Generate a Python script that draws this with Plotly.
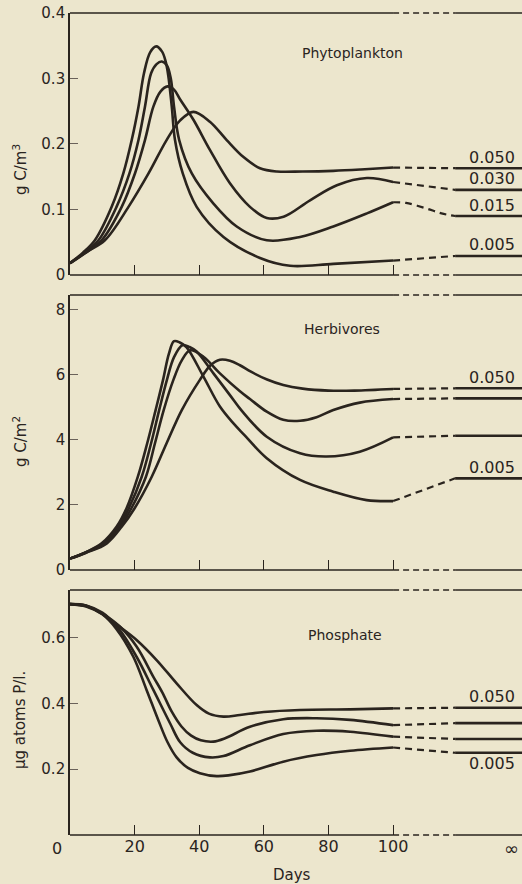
import plotly.graph_objects as go

# ---------------- data ----------------
params = ["0.005", "0.015", "0.030", "0.050"]
x_ticks = [20, 40, 60, 80, 100]
x_tick_text = ["20", "40", "60", "80", "100"]
dash_start = 100
asym_start = 119.2
x_max = 139.9

# Phytoplankton (g C/m3)
phyto_005_days = [0, 4, 7.7, 12.9, 16.5, 19.1, 21.2, 22.9, 24.8, 26.7, 28.5, 29.6, 30.4, 31.5, 32.5, 34.9, 39.2, 47.5, 58.8, 68.1, 81.5, 100]
phyto_005_vals = [0.018, 0.034, 0.053, 0.104, 0.155, 0.206, 0.257, 0.308, 0.340, 0.349, 0.341, 0.326, 0.305, 0.257, 0.206, 0.155, 0.104, 0.058, 0.026, 0.014, 0.017, 0.022]
phyto_015_days = [0, 4, 8.8, 14.4, 18.4, 21.2, 23.2, 25.1, 26.8, 28.4, 30.0, 31.2, 32.2, 33.8, 37.7, 44.4, 51.6, 60.9, 71.2, 81.5, 91.9, 100]
phyto_015_vals = [0.018, 0.032, 0.053, 0.104, 0.155, 0.206, 0.257, 0.308, 0.322, 0.326, 0.320, 0.300, 0.257, 0.206, 0.155, 0.109, 0.074, 0.053, 0.058, 0.074, 0.094, 0.111]
phyto_030_days = [0, 4, 9.8, 16, 20.1, 23.2, 25.8, 28, 30.2, 32.2, 34.1, 38.2, 43.3, 49.5, 55.7, 60.9, 66.1, 74.3, 82.6, 91.9, 100]
phyto_030_vals = [0.018, 0.031, 0.053, 0.104, 0.155, 0.206, 0.257, 0.280, 0.288, 0.283, 0.268, 0.237, 0.191, 0.140, 0.104, 0.087, 0.089, 0.114, 0.137, 0.148, 0.142]
phyto_050_days = [0, 5, 10.8, 18.1, 24.3, 29.9, 34.1, 38.2, 43.3, 48.5, 53.7, 58.8, 64, 72, 81.5, 90, 100]
phyto_050_vals = [0.018, 0.035, 0.053, 0.104, 0.155, 0.206, 0.236, 0.249, 0.234, 0.206, 0.180, 0.163, 0.158, 0.158, 0.159, 0.161, 0.164]
phyto_dash_days = [[100, 119.2], [100, 104, 110, 115, 119.2], [100, 119.2], [100, 119.2]]
phyto_dash_vals = [[0.022, 0.029], [0.111, 0.110, 0.102, 0.094, 0.090], [0.142, 0.130], [0.164, 0.163]]
phyto_asym = [0.029, 0.090, 0.130, 0.163]

# Herbivores (g C/m2)
herb_005_days = [0, 5, 9.8, 14.4, 17.5, 21.0, 23.9, 26.5, 28.8, 30.6, 32.2, 34.0, 36.1, 41.3, 46.4, 50.6, 54, 60.9, 71.2, 81.5, 91.8, 100]
herb_005_vals = [0.35, 0.55, 0.82, 1.33, 1.90, 2.87, 3.90, 4.92, 5.85, 6.65, 7.04, 7.00, 6.85, 5.95, 5.03, 4.51, 4.15, 3.44, 2.77, 2.41, 2.15, 2.12]
herb_015_days = [0, 5, 10.3, 15.0, 18.2, 22.2, 25.1, 27.6, 30.0, 32.2, 34.9, 37.0, 39.2, 44.4, 49.5, 53, 60.9, 71.2, 79.4, 89.7, 100]
herb_015_vals = [0.35, 0.55, 0.82, 1.33, 1.90, 2.87, 3.90, 4.92, 5.85, 6.55, 6.92, 6.86, 6.72, 6.05, 5.38, 4.92, 4.10, 3.59, 3.49, 3.64, 4.08]
herb_030_days = [0, 5, 10.8, 15.5, 19.0, 23.5, 26.3, 29.0, 32.0, 34.6, 37.2, 41.3, 46.4, 52.6, 55.7, 60.9, 66, 71.2, 76.3, 81.5, 89.7, 100]
herb_030_vals = [0.35, 0.54, 0.82, 1.33, 1.90, 2.87, 3.90, 4.92, 5.85, 6.45, 6.76, 6.56, 6.05, 5.50, 5.26, 4.87, 4.62, 4.59, 4.70, 4.92, 5.15, 5.26]
herb_050_days = [0, 5, 11.4, 16, 20.0, 25.3, 29.9, 34.6, 40.2, 43.5, 46.4, 49.5, 52.6, 56, 61, 66, 72, 80, 88, 100]
herb_050_vals = [0.35, 0.53, 0.82, 1.33, 1.90, 2.87, 3.90, 4.92, 5.85, 6.30, 6.47, 6.44, 6.30, 6.10, 5.86, 5.69, 5.58, 5.52, 5.52, 5.57]
herb_dash_days = [[100, 119.2], [100, 119.2], [100, 119.2], [100, 119.2]]
herb_dash_vals = [[2.12, 2.82], [4.08, 4.13], [5.26, 5.28], [5.57, 5.59]]
herb_asym = [2.82, 4.13, 5.28, 5.59]

# Phosphate (ug atoms P/l)
phos_005_days = [0, 5, 10, 14.4, 19.6, 23.7, 27.5, 30.2, 33, 36.5, 40.2, 45.4, 49.5, 55.7, 66, 76.3, 86.7, 100]
phos_005_vals = [0.702, 0.695, 0.671, 0.626, 0.542, 0.441, 0.345, 0.282, 0.236, 0.204, 0.188, 0.179, 0.182, 0.193, 0.223, 0.243, 0.256, 0.266]
phos_015_days = [0, 5, 10, 15, 20.6, 25.8, 31, 34.1, 38, 43.3, 47.5, 55.7, 66, 76.3, 86.7, 100]
phos_015_vals = [0.702, 0.696, 0.672, 0.628, 0.542, 0.441, 0.339, 0.282, 0.250, 0.236, 0.240, 0.273, 0.307, 0.317, 0.314, 0.299]
phos_030_days = [0, 5, 10, 15.5, 20.6, 25.8, 28.6, 31.5, 34.5, 37.5, 40.5, 44.4, 48, 55.7, 66, 76.3, 86.7, 100]
phos_030_vals = [0.702, 0.697, 0.673, 0.633, 0.573, 0.481, 0.433, 0.375, 0.330, 0.302, 0.288, 0.284, 0.294, 0.329, 0.352, 0.355, 0.350, 0.334]
phos_050_days = [0, 5, 10, 13.4, 20.6, 26.8, 33, 39.2, 43, 47.5, 52.6, 60, 71.2, 86.7, 100]
phos_050_vals = [0.702, 0.698, 0.676, 0.648, 0.593, 0.532, 0.461, 0.395, 0.369, 0.360, 0.365, 0.374, 0.380, 0.382, 0.385]
phos_dash_days = [[100, 119.2], [100, 119.2], [100, 119.2], [100, 119.2]]
phos_dash_vals = [[0.266, 0.250], [0.299, 0.292], [0.334, 0.340], [0.385, 0.387]]
phos_asym = [0.250, 0.292, 0.340, 0.387]

# ---------------- styling ----------------
BG = "#ECE6CD"
INK = "#2A241E"
FONT = "DejaVu Sans"

fig = go.Figure()

panels = [
    ("x", "y", [(phyto_005_days, phyto_005_vals), (phyto_015_days, phyto_015_vals),
                (phyto_030_days, phyto_030_vals), (phyto_050_days, phyto_050_vals)],
     phyto_dash_days, phyto_dash_vals, phyto_asym),
    ("x2", "y2", [(herb_005_days, herb_005_vals), (herb_015_days, herb_015_vals),
                  (herb_030_days, herb_030_vals), (herb_050_days, herb_050_vals)],
     herb_dash_days, herb_dash_vals, herb_asym),
    ("x3", "y3", [(phos_005_days, phos_005_vals), (phos_015_days, phos_015_vals),
                  (phos_030_days, phos_030_vals), (phos_050_days, phos_050_vals)],
     phos_dash_days, phos_dash_vals, phos_asym),
]

for xa, ya, curves, dd, dv, asym in panels:
    for i, (d, v) in enumerate(curves):
        fig.add_trace(go.Scatter(x=d, y=v, xaxis=xa, yaxis=ya, mode="lines",
                                 line=dict(color=INK, width=2.6, shape="spline", smoothing=1.0),
                                 showlegend=False, hoverinfo="skip"))
        fig.add_trace(go.Scatter(x=dd[i], y=dv[i], xaxis=xa, yaxis=ya, mode="lines",
                                 line=dict(color=INK, width=2.2, dash="7px,5px", shape="spline"),
                                 showlegend=False, hoverinfo="skip"))
        fig.add_trace(go.Scatter(x=[asym_start, x_max], y=[asym[i], asym[i]], xaxis=xa, yaxis=ya,
                                 mode="lines", line=dict(color=INK, width=2.6),
                                 showlegend=False, hoverinfo="skip"))

# ---------------- axes ----------------
doms = [[0.6813, 1.0], [0.3224, 0.6569], [0.0, 0.2981]]
yranges = [[0, 0.4], [0, 8.46], [0, 0.745]]
ytickvals = [[0, 0.1, 0.2, 0.3, 0.4], [0, 2, 4, 6, 8], [0.2, 0.4, 0.6]]
yticktext = [["0", "0.1", "0.2", "0.3", "0.4"], ["0", "2", "4", "6", "8"], ["0.2", "0.4", "0.6"]]

layout = dict(
    width=522, height=884,
    paper_bgcolor=BG, plot_bgcolor=BG,
    margin=dict(l=70, r=0, t=13, b=49),
    font=dict(family=FONT, color=INK, size=15),
    showlegend=False,
)
for k in range(3):
    sx = "" if k == 0 else str(k + 1)
    layout["xaxis" + sx] = dict(
        domain=[0, 1], range=[0, x_max], anchor="y" + sx,
        showgrid=False, zeroline=False, showline=False,
        ticks="inside", ticklen=10, tickwidth=1, tickcolor=INK,
        tickvals=x_ticks, ticktext=x_tick_text,
        showticklabels=(k == 2), tickfont=dict(size=16, family=FONT, color=INK),
    )
    layout["yaxis" + sx] = dict(
        domain=doms[k], range=yranges[k], anchor="x" + sx,
        showgrid=False, zeroline=False, showline=True, linecolor=INK, linewidth=1.6,
        ticks="inside", ticklen=8, tickwidth=1, tickcolor="#6a625a",
        tickvals=ytickvals[k], ticktext=yticktext[k],
        tickfont=dict(size=15, family=FONT, color=INK),
    )
fig.update_layout(**layout)

# top / bottom frame lines: solid to day 100, dashed to the break, solid after
shapes = []
for k in range(3):
    sx = "" if k == 0 else str(k + 1)
    for yd in (0, 1):
        for x0, x1, dash in ((0, dash_start, "solid"), (dash_start, asym_start, "6px,4px"),
                             (asym_start, x_max, "solid")):
            shapes.append(dict(type="line", xref="x" + sx, yref="y" + sx + " domain",
                               x0=x0, x1=x1, y0=yd, y1=yd,
                               line=dict(color=INK, width=1.4, dash=dash)))
fig.update_layout(shapes=shapes)

# ---------------- text ----------------
def note(text, x, y, xref="paper", yref="paper", size=15, angle=0, yshift=0):
    return dict(text=text, x=x, y=y, xref=xref, yref=yref, xanchor="center", yanchor="middle",
                textangle=angle, yshift=yshift, showarrow=False, font=dict(size=size))

ann = []
ann.append(note("g C/m<sup>3</sup>", -0.1106, (835 - 170) / 822, angle=-90))
ann.append(note("g C/m<sup>2</sup>", -0.1106, (835 - 442) / 822, angle=-90))
ann.append(note("μg atoms P/l.", -0.1106, (835 - 720) / 822, angle=-90))
ann.append(note("Phytoplankton", 0.626, (835 - 53) / 822, size=14))
ann.append(note("Herbivores", 0.602, (835 - 329) / 822, size=14))
ann.append(note("Phosphate", 0.608, (835 - 635) / 822, size=14))
ann.append(note("Days", 0.491, (835 - 875) / 822, size=15))
ann.append(note("0", -0.0288, (835 - 848) / 822, size=16))
ann.append(note("∞", 136.8, (835 - 848) / 822, xref="x3", size=18))

label_x = 130.6
for i in range(4):
    ann.append(note(params[i], label_x, phyto_asym[i], xref="x", yref="y", size=16, yshift=11))
for i in (0, 3):
    ann.append(note(params[i], label_x, herb_asym[i], xref="x2", yref="y2", size=16, yshift=11))
ann.append(note(params[3], label_x, phos_asym[3], xref="x3", yref="y3", size=16, yshift=11))
ann.append(note(params[0], label_x, phos_asym[0], xref="x3", yref="y3", size=16, yshift=-11))
fig.update_layout(annotations=ann)

fig.write_html("out.html", config={"displayModeBar": False},
               post_script="document.body.style.margin='0';document.body.style.overflow='hidden';")
